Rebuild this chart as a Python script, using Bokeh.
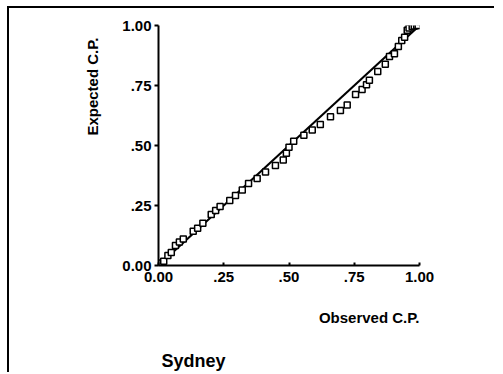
from bokeh.plotting import figure
from bokeh.models import FixedTicker, Title
from bokeh.embed import file_html
from bokeh.resources import INLINE

# Observed vs expected cumulative proportions
observed = [0.000, 0.005, 0.012, 0.020, 0.036, 0.049, 0.065, 0.080, 0.095, 0.133,
            0.150, 0.170, 0.202, 0.219, 0.236, 0.273, 0.295, 0.321, 0.345, 0.378,
            0.410, 0.448, 0.478, 0.490, 0.500, 0.518, 0.557, 0.589, 0.620, 0.659,
            0.697, 0.723, 0.755, 0.780, 0.797, 0.808, 0.840, 0.869, 0.885, 0.904,
            0.919, 0.932, 0.943, 0.953, 0.960, 0.972, 0.980, 0.989, 0.995]
expected = [0.000, 0.004, 0.010, 0.018, 0.042, 0.054, 0.083, 0.098, 0.110, 0.143,
            0.155, 0.176, 0.213, 0.229, 0.246, 0.271, 0.292, 0.315, 0.342, 0.363,
            0.390, 0.417, 0.440, 0.468, 0.493, 0.518, 0.543, 0.565, 0.588, 0.620,
            0.646, 0.669, 0.713, 0.733, 0.753, 0.772, 0.808, 0.839, 0.871, 0.882,
            0.913, 0.938, 0.951, 0.980, 0.990, 0.996, 0.998, 1.000, 1.000]
ref_line_x = [0.0, 1.0]
ref_line_y = [0.0, 1.0]
tick_values = [0.0, 0.25, 0.5, 0.75, 1.0]
tick_labels = ["0.00", ".25", ".50", ".75", "1.00"]
x_title = "Observed C.P."
y_title = "Expected C.P."
panel_title = "Sydney"

FONT = "Liberation Sans"

p = figure(width=487, height=366, x_range=(0, 1), y_range=(0, 1),
           output_backend="svg", toolbar_location=None,
           min_border_left=149, min_border_right=77,
           min_border_top=17, min_border_bottom=109)
p.styles = {"border-top": "2px solid black", "border-left": "2px solid black",
            "margin-left": "7px", "margin-top": "6px"}
p.outline_line_color = None
p.grid.visible = False
p.background_fill_color = "white"
p.border_fill_color = "white"

ticker = FixedTicker(ticks=tick_values)
overrides = {v: s for v, s in zip(tick_values, tick_labels)}
for ax in (p.xaxis[0], p.yaxis[0]):
    ax.ticker = ticker
    ax.major_label_overrides = overrides
    ax.axis_line_width = 2
    ax.axis_line_color = "black"
    ax.major_tick_line_width = 2
    ax.minor_tick_line_color = None
    ax.major_label_text_font = FONT
    ax.major_label_text_font_style = "bold"
    ax.major_label_text_font_size = "15px"
    ax.major_label_text_color = "black"

p.yaxis.major_tick_out = 4
p.yaxis.major_tick_in = 0
p.yaxis.major_label_standoff = 3
p.xaxis.major_tick_out = 0
p.xaxis.major_tick_in = 3
p.xaxis.major_label_standoff = 6

p.line(ref_line_x, ref_line_y, line_color="black", line_width=2)
p.scatter(observed, expected, marker="square", size=6, fill_color="white",
          line_color="black", line_width=1.5)

p.add_layout(Title(text=y_title, align="right", standoff=37, offset=12,
                   text_color="black",
                   text_font=FONT, text_font_style="bold", text_font_size="15px"), "left")
p.add_layout(Title(text=x_title, align="right", standoff=45,
                   text_color="black",
                   text_font=FONT, text_font_style="bold", text_font_size="15px"), "below")
p.add_layout(Title(text=panel_title, align="left", offset=3, standoff=0,
                   text_color="black",
                   text_font=FONT, text_font_style="bold", text_font_size="18px"), "below")

open("out.html", "w").write(file_html(p, INLINE))
